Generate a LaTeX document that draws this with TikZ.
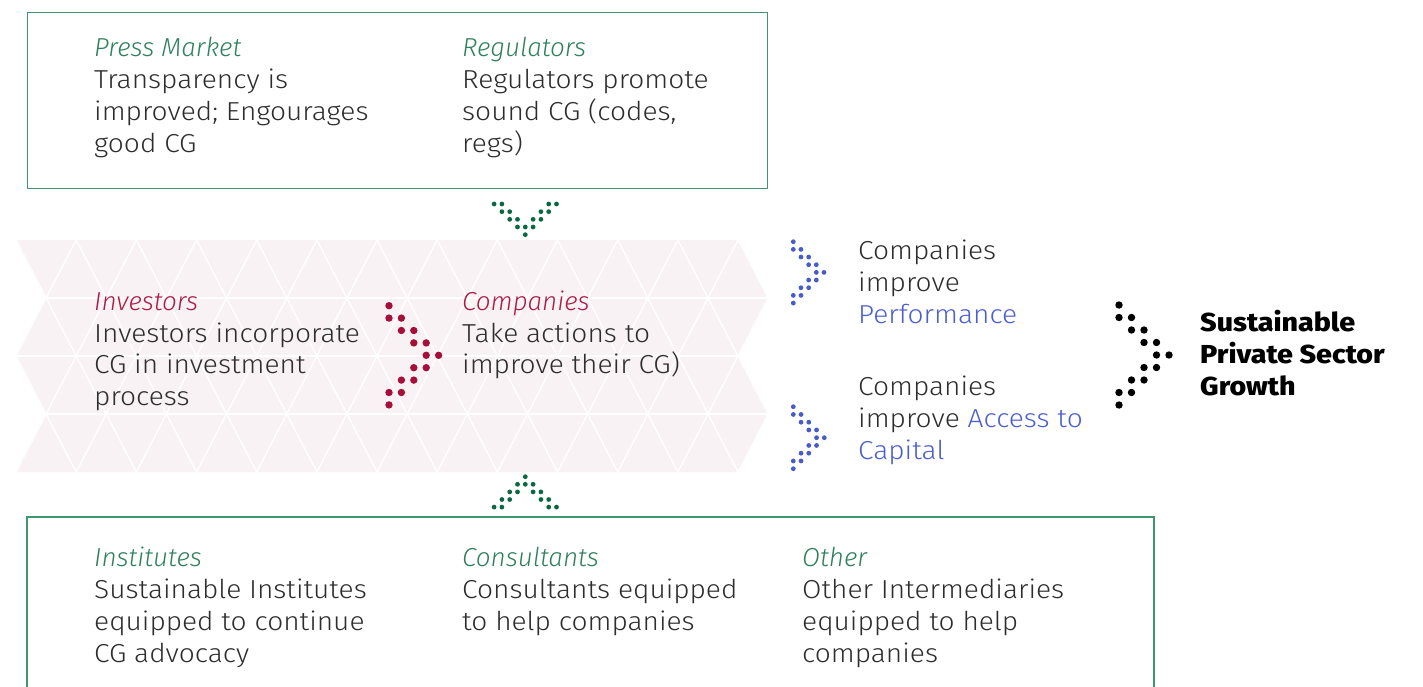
\documentclass[tikz,border=0pt]{standalone}
\usepackage{fontspec}
\setmainfont{Fira Sans}[UprightFont={* Light},ItalicFont={* Light Italic},BoldFont={* Bold},UprightFeatures={FakeStretch=1.08}]
\newfontfamily\heavyfont{Fira Sans}[UprightFont={* ExtraBold},FakeStretch=1.1]
\definecolor{boxgreen}{RGB}{64,150,112}
\definecolor{titlegreen}{RGB}{46,128,92}
\definecolor{dotgreen}{RGB}{10,105,65}
\definecolor{titlered}{RGB}{172,28,72}
\definecolor{dotred}{RGB}{165,15,58}
\definecolor{dotblue}{RGB}{72,92,200}
\definecolor{txtblue}{RGB}{76,96,205}
\definecolor{bodygray}{RGB}{45,45,45}
\definecolor{bandfill}{RGB}{248,242,245}
\tikzset{
  txt/.style={anchor=base west, inner sep=0pt, font=\fontsize{26}{32}\selectfont, text=bodygray},
  ttl/.style={anchor=base west, inner sep=0pt, font=\fontsize{26}{32}\selectfont\itshape, text=titlegreen},
  ttlred/.style={ttl, text=titlered},
  bld/.style={anchor=base west, inner sep=0pt, font=\fontsize{26}{32}\selectfont\heavyfont, text=black},
  boxline/.style={draw=boxgreen, line width=1.4pt},
  lattice/.style={draw=white, line width=1.3pt},
}
\newcommand{\dotchev}[5]{%
  \foreach \cc/\rr in {0/0,0/1,1/1,1/2,2/2,2/3,3/3,3/4,4/4,2/5,3/5,1/6,2/6,0/7,1/7,0/8}
    \fill[#5] ({#1+\cc*#3},{#2+\rr*#3}) circle[radius=#4pt];}
\begin{document}
\begin{tikzpicture}[x=1pt,y=-1pt]
\useasboundingbox (0,0) rectangle (1423,687);
% band
\def\bw{60.17}
\fill[bandfill] (16,240) -- (738,240) -- (768,298) -- (738,356) -- (768,414) -- (738,472) -- (16,472) -- (46,414) -- (16,356) -- (46,298) -- cycle;
\begin{scope}
\clip (16,240) -- (738,240) -- (768,298) -- (738,356) -- (768,414) -- (738,472) -- (16,472) -- (46,414) -- (16,356) -- (46,298) -- cycle;
\foreach \k in {-2,...,12} \draw[lattice] ({16+\k*\bw},240) -- ({16+(\k+2)*\bw},472);
\foreach \k in {0,...,14} \draw[lattice] ({16+\k*\bw},240) -- ({16+(\k-2)*\bw},472);
\foreach \yy in {298,356,414} \draw[lattice] (0,\yy) -- (800,\yy);
\end{scope}
% boxes
\node[boxline, anchor=north west, minimum width=740pt, minimum height=176pt, inner sep=0pt] (topbox) at (27,12) {};
\coordinate (bl) at (27,695);
\coordinate (br) at (1154,695);
\draw[boxline] (bl) |- (1154,517) -- (br);
% top texts
\node[ttl] (pm0) at (94,57) {Press Market};
\node[txt] (pm1) at (94,89) {Transparency is};
\node[txt] (pm2) at (94,121) {improved; Engourages};
\node[txt] (pm3) at (94,153) {good CG};
\node[ttl] (rg0) at (462,57) {Regulators};
\node[txt] (rg1) at (462,89) {Regulators promote};
\node[txt] (rg2) at (462,121) {sound CG (codes,};
\node[txt] (rg3) at (462,153) {regs)};
% middle texts
\node[ttlred] (iv0) at (94,310) {Investors};
\node[txt] (iv1) at (94,342) {Investors incorporate};
\node[txt] (iv2) at (94,373.5) {CG in investment};
\node[txt] (iv3) at (94,405) {process};
\node[ttlred] (co0) at (462,310) {Companies};
\node[txt] (co1) at (462,342) {Take actions to};
\node[txt] (co2) at (462,373.5) {improve their CG)};
% right texts
\node[txt] (pf0) at (858,259) {Companies};
\node[txt] (pf1) at (858,291) {improve};
\node[txt, text=txtblue] (pf2) at (858,323) {Performance};
\node[txt] (ac0) at (858,395) {Companies};
\node[txt] (ac1) at (858,427) {improve \textcolor{txtblue}{Access to}};
\node[txt, text=txtblue] (ac2) at (858,459) {Capital};
\node[bld] (sp0) at (1200,331) {Sustainable};
\node[bld] (sp1) at (1200,363) {Private Sector};
\node[bld] (sp2) at (1200,395) {Growth};
% bottom texts
\node[ttl] (in0) at (94,566) {Institutes};
\node[txt] (in1) at (94,598) {Sustainable Institutes};
\node[txt] (in2) at (94,630) {equipped to continue};
\node[txt] (in3) at (94,662) {CG advocacy};
\node[ttl] (cs0) at (462,566) {Consultants};
\node[txt] (cs1) at (462,598) {Consultants equipped};
\node[txt] (cs2) at (462,630) {to help companies};
\node[ttl] (ot0) at (802,566) {Other};
\node[txt] (ot1) at (802,598) {Other Intermediaries};
\node[txt] (ot2) at (802,630) {equipped to help};
\node[txt] (ot3) at (802,662) {companies};
% dotted chevrons
\dotchev{389}{305.7}{12.4}{3.7}{dotred}
\dotchev{1119}{305}{12.5}{3.7}{black}
\dotchev{793.3}{241.7}{7.67}{2.4}{dotblue}
\dotchev{793.3}{406.7}{7.75}{2.4}{dotblue}
% green down arrow
\foreach \cc/\rr in {-4/0,-3/0,3/0,4/0,-3/1,-2/1,2/1,3/1,-2/2,-1/2,1/2,2/2,-1/3,0/3,1/3,0/4}
  \fill[dotgreen] ({525.3+\cc*7.8},{204+\rr*7.67}) circle[radius=2.4pt];
% green up arrow
\foreach \cc/\rr in {-4/4,-3/4,3/4,4/4,-3/3,-2/3,2/3,3/3,-2/2,-1/2,1/2,2/2,-1/1,0/1,1/1,0/0}
  \fill[dotgreen] ({525.3+\cc*7.8},{476.7+\rr*7.6}) circle[radius=2.4pt];
\end{tikzpicture}
\end{document}
